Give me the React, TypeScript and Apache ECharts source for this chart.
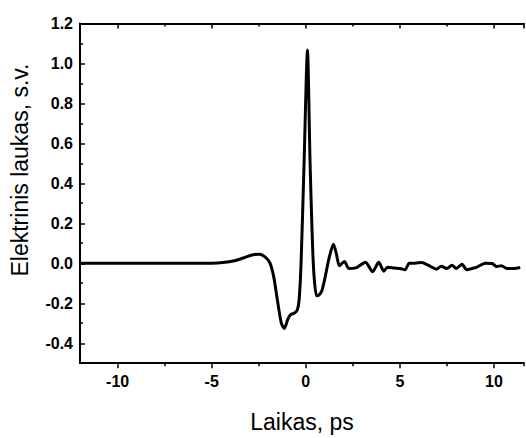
import React, { useEffect, useRef } from "react";
import * as echarts from "echarts";

const timePs = [
  -12, -8, -5, -4.4, -3.8, -3.2, -2.8, -2.45, -2.15, -1.9, -1.7, -1.5, -1.3, -1.14,
  -0.95, -0.8, -0.6, -0.45, -0.35, -0.25, -0.09, 0.09, 0.23, 0.4, 0.57, 0.7, 0.85,
  1.03, 1.25, 1.47, 1.62, 1.79, 2.05, 2.3, 2.7, 3.17, 3.55, 3.88, 4.15, 4.35, 4.7,
  5.02, 5.28, 5.5, 5.8, 6.17, 6.5, 6.95, 7.2, 7.5, 7.77, 8.0, 8.3, 8.56, 8.83, 9.1,
  9.54, 9.9, 10.16, 10.4, 10.69, 11.04, 11.4,
];
const fieldValues = [
  0, 0, 0, 0.003, 0.012, 0.03, 0.042, 0.045, 0.03, 0, -0.07, -0.19, -0.3, -0.327,
  -0.28, -0.258, -0.25, -0.235, -0.18, 0, 0.5, 1.067, 0.5, 0, -0.163, -0.16, -0.14,
  -0.07, 0.03, 0.095, 0.05, -0.013, 0.008, -0.027, -0.022, 0.005, -0.043, 0.004, -0.04,
  -0.02, -0.024, -0.027, -0.033, 0, 0, 0.003, -0.01, -0.03, -0.015, -0.027, -0.01,
  -0.027, -0.005, -0.033, -0.027, -0.02, 0, -0.002, -0.017, -0.013, -0.027, -0.027,
  -0.022,
];

const xRange = [-12, 11.6];
const yRange = [-0.5, 1.2];
const xMajorStart = -10;
const xMinorStart = -7.5;
const xStep = 5;
const yMajorStart = -0.4;
const yStep = 0.2;

const xTitle = "Laikas, ps";
const yTitle = "Elektrinis laukas, s.v.";

const W = 526;
const H = 438;
const G = { left: 80, right: 2, top: 23.5, bottom: 74.7 };

export default function App() {
  const ref = useRef<HTMLDivElement>(null);
  useEffect(() => {
    if (!ref.current) return;
    const chart = echarts.init(ref.current, null, { renderer: "svg" });
    const font = "'Liberation Sans', Arial, sans-serif";
    const lineCol = { color: "#000", width: 2 };
    const tickCol = { color: "#000", width: 1.5 };
    const pxPerX = (W - G.left - G.right) / (xRange[1] - xRange[0]);
    const pxPerY = (H - G.top - G.bottom) / (yRange[1] - yRange[0]);
    const labelStyle = { fontFamily: font, fontSize: 16, fontWeight: "bold", color: "#000" };
    const hidden = { axisLine: { show: false, onZero: false }, axisTick: { show: false }, axisLabel: { show: false }, splitLine: { show: false } };

    const grids = [
      { ...G },
      { ...G, left: G.left + (xMajorStart - xRange[0]) * pxPerX },
      { ...G, left: G.left + (xMinorStart - xRange[0]) * pxPerX },
      { ...G, bottom: G.bottom + (yMajorStart - yRange[0]) * pxPerY },
    ];

    const xAxes: any[] = [
      { gridIndex: 0, type: "value", min: xRange[0], max: xRange[1], position: "bottom",
        axisLine: { show: true, onZero: false, lineStyle: lineCol }, axisTick: { show: false }, axisLabel: { show: false }, splitLine: { show: false },
        name: xTitle, nameLocation: "middle", nameGap: 47,
        nameTextStyle: { fontFamily: font, fontSize: 23, color: "#000" } },
      { gridIndex: 0, type: "value", min: xRange[0], max: xRange[1], position: "top",
        axisLine: { show: true, onZero: false, lineStyle: lineCol }, axisTick: { show: false }, axisLabel: { show: false }, splitLine: { show: false } },
      { gridIndex: 1, type: "value", min: xMajorStart, max: xRange[1], interval: xStep, position: "bottom",
        axisLine: { show: false, onZero: false }, splitLine: { show: false },
        axisTick: { show: true, inside: false, length: 5, lineStyle: tickCol },
        axisLabel: { ...labelStyle, margin: 10, showMaxLabel: false, formatter: (v: number) => String(Math.round(v)) } },
      { gridIndex: 1, type: "value", min: xMajorStart, max: xRange[1], interval: xStep, position: "top",
        axisLine: { show: false, onZero: false }, splitLine: { show: false },
        axisTick: { show: true, inside: true, length: 5, lineStyle: tickCol }, axisLabel: { show: false } },
      { gridIndex: 2, type: "value", min: xMinorStart, max: xRange[1], interval: xStep, position: "bottom",
        axisLine: { show: false, onZero: false }, splitLine: { show: false },
        axisTick: { show: true, inside: false, length: 3, lineStyle: tickCol }, axisLabel: { show: false } },
      { gridIndex: 2, type: "value", min: xMinorStart, max: xRange[1], interval: xStep, position: "top",
        axisLine: { show: false, onZero: false }, splitLine: { show: false },
        axisTick: { show: true, inside: true, length: 3, lineStyle: tickCol }, axisLabel: { show: false } },
      { gridIndex: 3, type: "value", min: xRange[0], max: xRange[1], ...hidden },
    ];

    const yAxes: any[] = [
      { gridIndex: 0, type: "value", min: yRange[0], max: yRange[1], interval: yStep, position: "left",
        axisLine: { show: true, onZero: false, lineStyle: lineCol }, splitLine: { show: false },
        axisTick: { show: true, inside: true, length: 3, lineStyle: tickCol }, axisLabel: { show: false } },
      { gridIndex: 1, type: "value", min: yRange[0], max: yRange[1], ...hidden },
      { gridIndex: 2, type: "value", min: yRange[0], max: yRange[1], ...hidden },
      { gridIndex: 3, type: "value", min: yMajorStart, max: yRange[1], interval: yStep, position: "left",
        axisLine: { show: false, onZero: false }, splitLine: { show: false },
        axisTick: { show: true, inside: true, length: 5, lineStyle: tickCol },
        axisLabel: { ...labelStyle, margin: 7, formatter: (v: number) => v.toFixed(1) } },
    ];

    chart.setOption({
      animation: false,
      backgroundColor: "#fff",
      grid: grids,
      xAxis: xAxes,
      yAxis: yAxes,
      graphic: [
        {
          type: "text",
          x: 20,
          y: 170,
          rotation: Math.PI / 2,
          style: {
            text: yTitle,
            fontFamily: font,
            fontSize: 23,
            fill: "#000",
            textAlign: "center",
            textVerticalAlign: "middle",
          },
        },
      ],
      series: [
        {
          type: "line",
          xAxisIndex: 0,
          yAxisIndex: 0,
          data: timePs.map((t, i) => [t, fieldValues[i]]),
          showSymbol: false,
          smooth: 0.25,
          lineStyle: { color: "#000", width: 3 },
        },
      ],
    });
    return () => chart.dispose();
  }, []);
  return <div ref={ref} style={{ width: W, height: H, position: "absolute", left: 0, top: 0 }} />;
}
